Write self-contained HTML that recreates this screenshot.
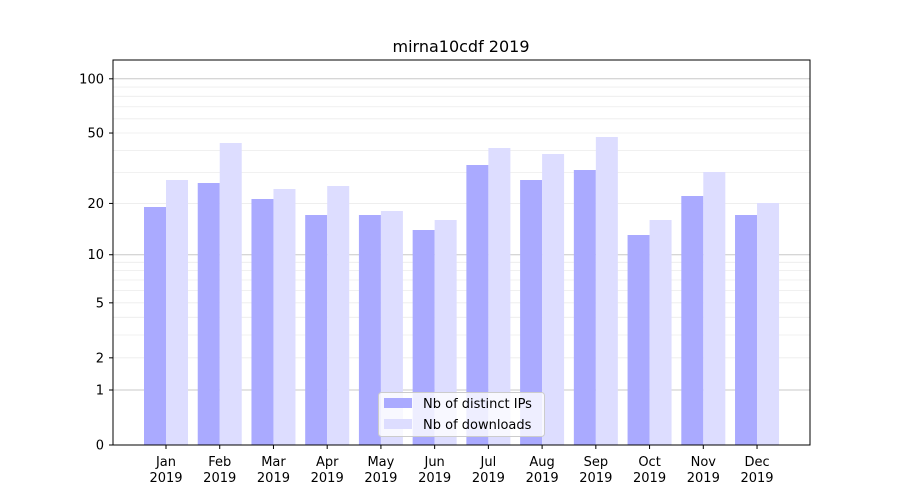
<!DOCTYPE html>
<html><head><meta charset="utf-8"><style>body{margin:0;background:#fff}svg{display:block}text{font-family:"DejaVu Sans","Liberation Sans",sans-serif;font-size:13px;fill:#000}</style></head><body>
<svg width="900" height="500" xmlns="http://www.w3.org/2000/svg">
<g id="grid"></g>
<g id="bars"></g>
<rect x="113" y="60" width="697" height="385" fill="none" stroke="#000" stroke-width="1"/>
<g id="yt"></g>
<g id="xt"></g>
<text x="461" y="52" text-anchor="middle" style="font-size:16px">mirna10cdf 2019</text>
<rect x="378.5" y="392.5" width="166" height="44" rx="3" fill="#fff" fill-opacity="0.8" stroke="#ccc"/>
<rect x="384" y="398" width="28" height="10" fill="#aaaaff"/>
<text x="423" y="408">Nb of distinct IPs</text>
<rect x="384" y="419" width="28" height="10" fill="#ddddff"/>
<text x="423" y="429">Nb of downloads</text>
<script>
var ns="http://www.w3.org/2000/svg";
function el(p,t,a,txt){var e=document.createElementNS(ns,t);for(var k in a)e.setAttribute(k,a[k]);if(txt)e.textContent=txt;document.getElementById(p).appendChild(e);}
function Y(v){return 445-182.7*Math.log10(1+v);}
var vals=[1,2,3,4,5,6,7,8,9,10,20,30,40,50,60,70,80,90,100];
vals.forEach(function(v){var maj=(v==1||v==10||v==100);el("grid","line",{x1:113,x2:810,y1:Y(v),y2:Y(v),stroke:maj?"#c8c8c8":"#ececec","stroke-width":maj?1:0.8});});
[0,1,2,5,10,20,50,100].forEach(function(v){var y=Y(v);el("yt","line",{x1:109,x2:113,y1:y,y2:y,stroke:"#000"});el("yt","text",{x:104,y:y+4.5,"text-anchor":"end"},String(v));});
var tops=[[207,180],[183,143],[199,189],[215,186],[215,211],[230,220],[165,148],[180,154],[170,137],[235,220],[196,172],[215,203]];
var m=["Jan","Feb","Mar","Apr","May","Jun","Jul","Aug","Sep","Oct","Nov","Dec"];
for(var i=0;i<12;i++){var c=166+i*53.73;
el("bars","rect",{x:c-22,y:tops[i][0],width:22,height:445-tops[i][0],fill:"#aaaaff"});
el("bars","rect",{x:c,y:tops[i][1],width:22,height:445-tops[i][1],fill:"#ddddff"});
el("xt","line",{x1:c,x2:c,y1:445,y2:449,stroke:"#000"});
el("xt","text",{x:c,y:466,"text-anchor":"middle"},m[i]);
el("xt","text",{x:c,y:482,"text-anchor":"middle"},"2019");}
</script>
</svg></body></html>
